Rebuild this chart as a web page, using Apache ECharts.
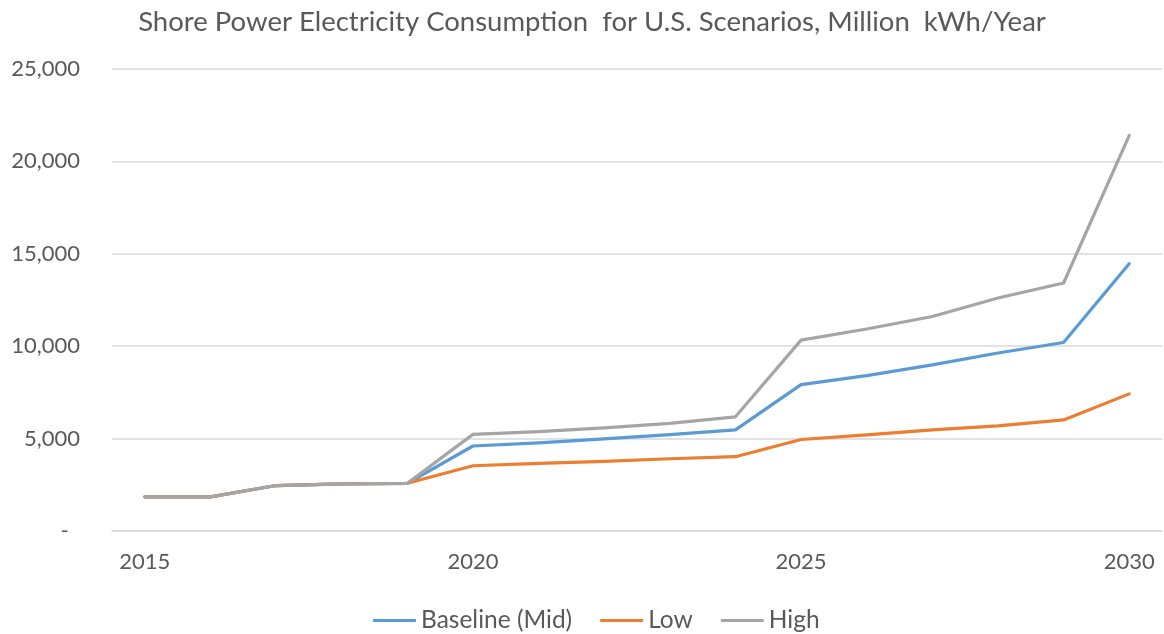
<!DOCTYPE html>
<html>
<head>
<meta charset="utf-8">
<title>Shore Power Electricity Consumption</title>
<script src="https://cdn.jsdelivr.net/npm/echarts@6/dist/echarts.min.js"></script>
<style>
  html, body { margin: 0; padding: 0; background: #ffffff; }
  #chart { width: 1164px; height: 634px; }
</style>
</head>
<body>
<div id="chart"></div>
<script>
// Shore power electricity consumption, million kWh per year, by scenario
const years = ['2015','2016','2017','2018','2019','2020','2021','2022','2023','2024','2025','2026','2027','2028','2029','2030'];
const baselineMid = [1850, 1850, 2460, 2550, 2580, 4600, 4770, 4980, 5220, 5470, 7920, 8410, 8990, 9630, 10200, 14460];
const low         = [1850, 1850, 2460, 2550, 2580, 3530, 3660, 3770, 3910, 4020, 4950, 5200, 5470, 5690, 6010, 7420];
const high        = [1850, 1850, 2460, 2550, 2580, 5230, 5380, 5580, 5820, 6180, 10330, 10930, 11610, 12610, 13420, 21400];
const yTicks = [0, 5000, 10000, 15000, 20000, 25000];

const FONT = 'Lato';
const TEXT = '#595959';

function fmtTick(v) {
  if (v === 0) return '-  ';
  return v.toLocaleString('en-US');
}

function lineSeries(name, data, color) {
  return {
    name: name,
    type: 'line',
    data: data,
    symbol: 'none',
    smooth: false,
    lineStyle: { color: color, width: 3.2, cap: 'round', join: 'round' },
    itemStyle: { color: color },
    emphasis: { disabled: true }
  };
}

const chart = echarts.init(document.getElementById('chart'), null, { renderer: 'canvas' });
chart.setOption({
  animation: false,
  backgroundColor: '#ffffff',
  title: {
    text: 'Shore Power Electricity Consumption  for U.S. Scenarios, Million  kWh/Year',
    left: 587,
    textAlign: 'center',
    top: 3,
    textStyle: { fontFamily: FONT, fontSize: 27.5, fontWeight: 'normal', color: TEXT }
  },
  grid: { left: 112, right: 2, top: 69, bottom: 103, containLabel: false },
  legend: {
    top: 603,
    left: 368,
    itemWidth: 43,
    itemHeight: 3,
    itemGap: 28,
    icon: 'roundRect',
    textStyle: { fontFamily: FONT, fontSize: 24.5, color: TEXT },
    data: ['Baseline (Mid)', 'Low', 'High']
  },
  xAxis: {
    type: 'category',
    data: years,
    boundaryGap: true,
    axisLine: { show: true, lineStyle: { color: '#d9d9d9', width: 1.5 } },
    axisTick: { show: false },
    axisLabel: { interval: 4, margin: 20, fontFamily: FONT, fontSize: 22, color: TEXT },
    splitLine: { show: false }
  },
  yAxis: {
    type: 'value',
    min: yTicks[0],
    max: yTicks[yTicks.length - 1],
    interval: yTicks[1] - yTicks[0],
    axisLine: { show: false },
    axisTick: { show: false },
    axisLabel: { margin: 32, fontFamily: FONT, fontSize: 22, color: TEXT, formatter: fmtTick },
    splitLine: { show: true, lineStyle: { color: '#d9d9d9', width: 1.5 } }
  },
  series: [
    lineSeries('Baseline (Mid)', baselineMid, '#5B9BD5'),
    lineSeries('Low', low, '#ED7D31'),
    lineSeries('High', high, '#A5A5A5')
  ]
});
</script>
</body>
</html>
